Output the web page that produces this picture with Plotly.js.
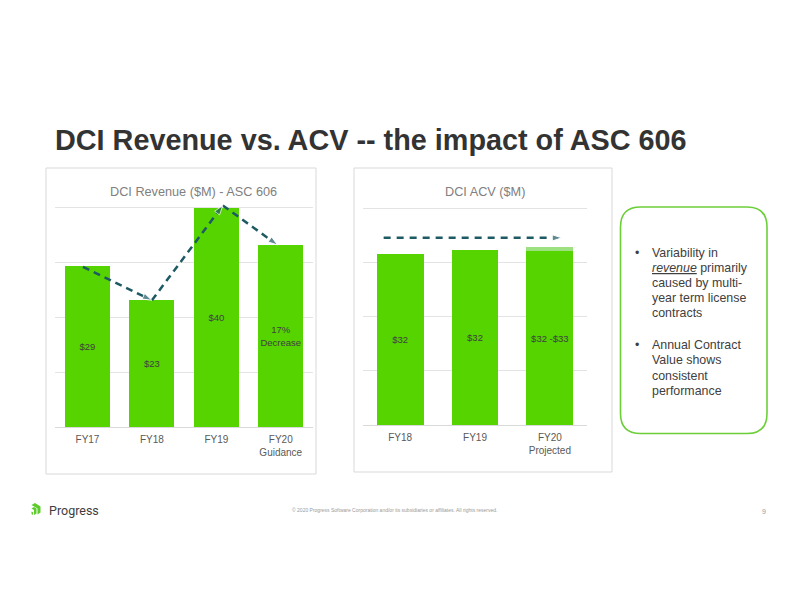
<!DOCTYPE html>
<html>
<head>
<meta charset="utf-8">
<script src="https://cdn.plot.ly/plotly-3.0.1.min.js"></script>
<style>html,body{margin:0;padding:0;background:#fff;}#chart{width:792px;height:612px;}</style>
</head>
<body>
<div id="chart"></div>
<script>
// ---- data ----
const revCategories = ['FY17', 'FY18', 'FY19', 'FY20<br>Guidance'];
const revValues = [29.4, 23.1, 40.0, 33.2];
const revLabels = ['$29', '$23', '$40', '17%<br>Decrease'];
const revTrendX = [-0.07, 1.0, 2.1, 2.95];
const revTrendY = [29.2, 23.1, 40.4, 33.2];

const acvCategories = ['FY18', 'FY19', 'FY20<br>Projected'];
const acvBase = [31.6, 32.2, 32.0];
const acvRangeTop = [0, 0, 0.9];
const acvLabels = ['$32', '$32', '$32 -$33'];
const acvTrendX = [-0.22, 2.16];
const acvTrendY = [34.5, 34.5];

const slideTitle = 'DCI Revenue vs. ACV -- the impact of ASC 606';
const revTitle = 'DCI Revenue ($M) - ASC 606';
const acvTitle = 'DCI ACV ($M)';
const bullet1 = ['Variability in', '<i><u>revenue</u></i> primarily', 'caused by multi-', 'year term license', 'contracts'];
const bullet2 = ['Annual Contract', 'Value shows', 'consistent', 'performance'];
const footerText = '© 2020 Progress Software Corporation and/or its subsidiaries or affiliates. All rights reserved.';
const pageNumber = '9';

// ---- helpers ----
const W = 792, H = 612;
const px = x => x / W;
const py = y => 1 - y / H;
const GREEN = '#55d400';
const LIGHT = '#9de07f';
const LINE = '#1d5a63';
const FONT = 'Liberation Sans, Arial, sans-serif';

const revPos = revCategories.map((c, i) => i);
const acvPos = acvCategories.map((c, i) => i);

const traces = [
  {
    type: 'bar', x: revPos, y: revValues, xaxis: 'x', yaxis: 'y',
    width: 0.70, marker: {color: GREEN},
    text: revLabels, textposition: 'inside', insidetextanchor: 'middle',
    constraintext: 'none', textangle: 0,
    textfont: {family: FONT, size: 9.5, color: '#404040'},
    hoverinfo: 'skip', showlegend: false
  },
  {
    type: 'scatter', mode: 'lines+markers', x: revTrendX, y: revTrendY, xaxis: 'x', yaxis: 'y',
    line: {color: LINE, width: 2.5, dash: '7px,5px'},
    marker: {symbol: 'arrow', angleref: 'previous', size: [0, 10, 10, 10], color: LINE},
    cliponaxis: false, hoverinfo: 'skip', showlegend: false
  },
  {
    type: 'bar', x: acvPos, y: acvBase, xaxis: 'x2', yaxis: 'y2',
    width: 0.625, marker: {color: GREEN},
    text: acvLabels, textposition: 'inside', insidetextanchor: 'middle',
    constraintext: 'none', textangle: 0,
    textfont: {family: FONT, size: 9.5, color: '#404040'},
    hoverinfo: 'skip', showlegend: false
  },
  {
    type: 'bar', x: acvPos, y: acvRangeTop, xaxis: 'x2', yaxis: 'y2',
    width: 0.625, marker: {color: LIGHT}, textposition: 'none',
    hoverinfo: 'skip', showlegend: false
  },
  {
    type: 'scatter', mode: 'lines+markers', x: acvTrendX, y: acvTrendY, xaxis: 'x2', yaxis: 'y2',
    line: {color: LINE, width: 2.5, dash: '7px,6px'},
    marker: {symbol: 'arrow', angleref: 'previous', size: [0, 10], color: LINE},
    cliponaxis: false, hoverinfo: 'skip', showlegend: false
  }
];

const xCommon = {
  showgrid: false, zeroline: false, showline: false, ticks: '',
  ticklabelstandoff: 5,
  tickfont: {family: FONT, size: 10, color: '#595959'}, fixedrange: true
};
const yCommon = {
  range: [0, 41], showgrid: true, gridcolor: '#e3e3e3', gridwidth: 1,
  dtick: 10, tick0: 0, zeroline: true, zerolinecolor: '#d9d9d9', zerolinewidth: 1,
  showticklabels: false, ticks: '', showline: false, fixedrange: true
};

const layout = {
  width: W, height: H,
  margin: {l: 0, r: 0, t: 0, b: 0},
  paper_bgcolor: '#ffffff', plot_bgcolor: 'rgba(0,0,0,0)',
  font: {family: FONT},
  barmode: 'stack',
  showlegend: false,
  xaxis: Object.assign({}, xCommon, {
    domain: [px(55.25), px(313)], range: [-0.5, 3.5], anchor: 'y',
    tickmode: 'array', tickvals: revPos, ticktext: revCategories
  }),
  yaxis: Object.assign({}, yCommon, {domain: [py(427), py(202.2)], anchor: 'x'}),
  xaxis2: Object.assign({}, xCommon, {
    domain: [px(362.7), px(587.3)], range: [-0.5, 2.5], anchor: 'y2',
    tickmode: 'array', tickvals: acvPos, ticktext: acvCategories
  }),
  yaxis2: Object.assign({}, yCommon, {domain: [py(425), py(202.6)], anchor: 'x2'}),
  shapes: [],
  annotations: []
};

// boxes
layout.shapes.push({type: 'rect', xref: 'paper', yref: 'paper', x0: px(46), x1: px(316), y0: py(474), y1: py(168),
  line: {color: '#d9d9d9', width: 1}, layer: 'below'});
layout.shapes.push({type: 'rect', xref: 'paper', yref: 'paper', x0: px(354), x1: px(612), y0: py(472), y1: py(168),
  line: {color: '#d9d9d9', width: 1}, layer: 'below'});

// rounded bullet box (path in paper fractions)
(function () {
  const x0 = 620.5, x1 = 767, y0 = 207, y1 = 433.5, r = 20;
  const P = (x, y) => px(x).toFixed(5) + ',' + py(y).toFixed(5);
  const d = 'M' + P(x0 + r, y0) + ' L' + P(x1 - r, y0) + ' Q' + P(x1, y0) + ' ' + P(x1, y0 + r) +
    ' L' + P(x1, y1 - r) + ' Q' + P(x1, y1) + ' ' + P(x1 - r, y1) +
    ' L' + P(x0 + r, y1) + ' Q' + P(x0, y1) + ' ' + P(x0, y1 - r) +
    ' L' + P(x0, y0 + r) + ' Q' + P(x0, y0) + ' ' + P(x0 + r, y0) + ' Z';
  layout.shapes.push({type: 'path', xref: 'paper', yref: 'paper', path: d,
    line: {color: '#6ccf3a', width: 1.6}, fillcolor: 'rgba(0,0,0,0)'});
})();

// Progress logo icon (approximation)
(function () {
  const P = (x, y) => px(x).toFixed(5) + ',' + py(y).toFixed(5);
  const d = 'M' + P(31.5, 505) + ' L' + P(35, 503) + ' L' + P(40.5, 506.5) + ' L' + P(40.5, 512.5) +
    ' L' + P(37.5, 514.5) + ' L' + P(37.5, 508.5) + ' Z';
  layout.shapes.push({type: 'path', xref: 'paper', yref: 'paper', path: d, line: {width: 0}, fillcolor: '#5ccc2a'});
  const d2 = 'M' + P(31.5, 508.5) + ' L' + P(34, 507) + ' L' + P(36.5, 508.5) + ' L' + P(36.5, 513.5) +
    ' L' + P(34, 515) + ' L' + P(34, 510) + ' Z';
  layout.shapes.push({type: 'path', xref: 'paper', yref: 'paper', path: d2, line: {width: 0}, fillcolor: '#5ccc2a'});
  const d3 = 'M' + P(31.5, 511.5) + ' L' + P(33, 512.3) + ' L' + P(33, 515) + ' L' + P(31.5, 514) + ' Z';
  layout.shapes.push({type: 'path', xref: 'paper', yref: 'paper', path: d3, line: {width: 0}, fillcolor: '#5ccc2a'});
})();

function ann(text, x, y, opts) {
  layout.annotations.push(Object.assign({
    text: text, xref: 'paper', yref: 'paper', x: px(x), y: py(y),
    xanchor: 'left', yanchor: 'middle', showarrow: false,
    font: {family: FONT, size: 12, color: '#404040'}
  }, opts || {}));
}

ann('<b>' + slideTitle + '</b>', 53, 140, {font: {family: FONT, size: 28.8, color: '#333333'}});
ann(revTitle, 193.5, 192, {xanchor: 'center', font: {family: FONT, size: 12.7, color: '#808080'}});
ann(acvTitle, 485, 192, {xanchor: 'center', font: {family: FONT, size: 12.7, color: '#808080'}});

bullet1.forEach((t, i) => ann(t, 650, 253 + i * 15, {font: {family: FONT, size: 12.4, color: '#404040'}}));
ann('•', 636.7, 253, {xanchor: 'center', font: {family: FONT, size: 12.4, color: '#404040'}});
bullet2.forEach((t, i) => ann(t, 650, 345 + i * 15.3, {font: {family: FONT, size: 12.4, color: '#404040'}}));
ann('•', 636.7, 345, {xanchor: 'center', font: {family: FONT, size: 12.4, color: '#404040'}});

ann('Progress', 47, 510.5, {font: {family: 'Roboto, ' + FONT, size: 12.5, color: '#3d3d3d'}});
ann(footerText, 394, 510, {xanchor: 'center', font: {family: FONT, size: 5, color: '#9a9a9a'}});
ann(pageNumber, 764, 511, {xanchor: 'center', font: {family: FONT, size: 7, color: '#9a9a9a'}});

Plotly.newPlot('chart', traces, layout, {staticPlot: true, displayModeBar: false});
</script>
</body>
</html>
